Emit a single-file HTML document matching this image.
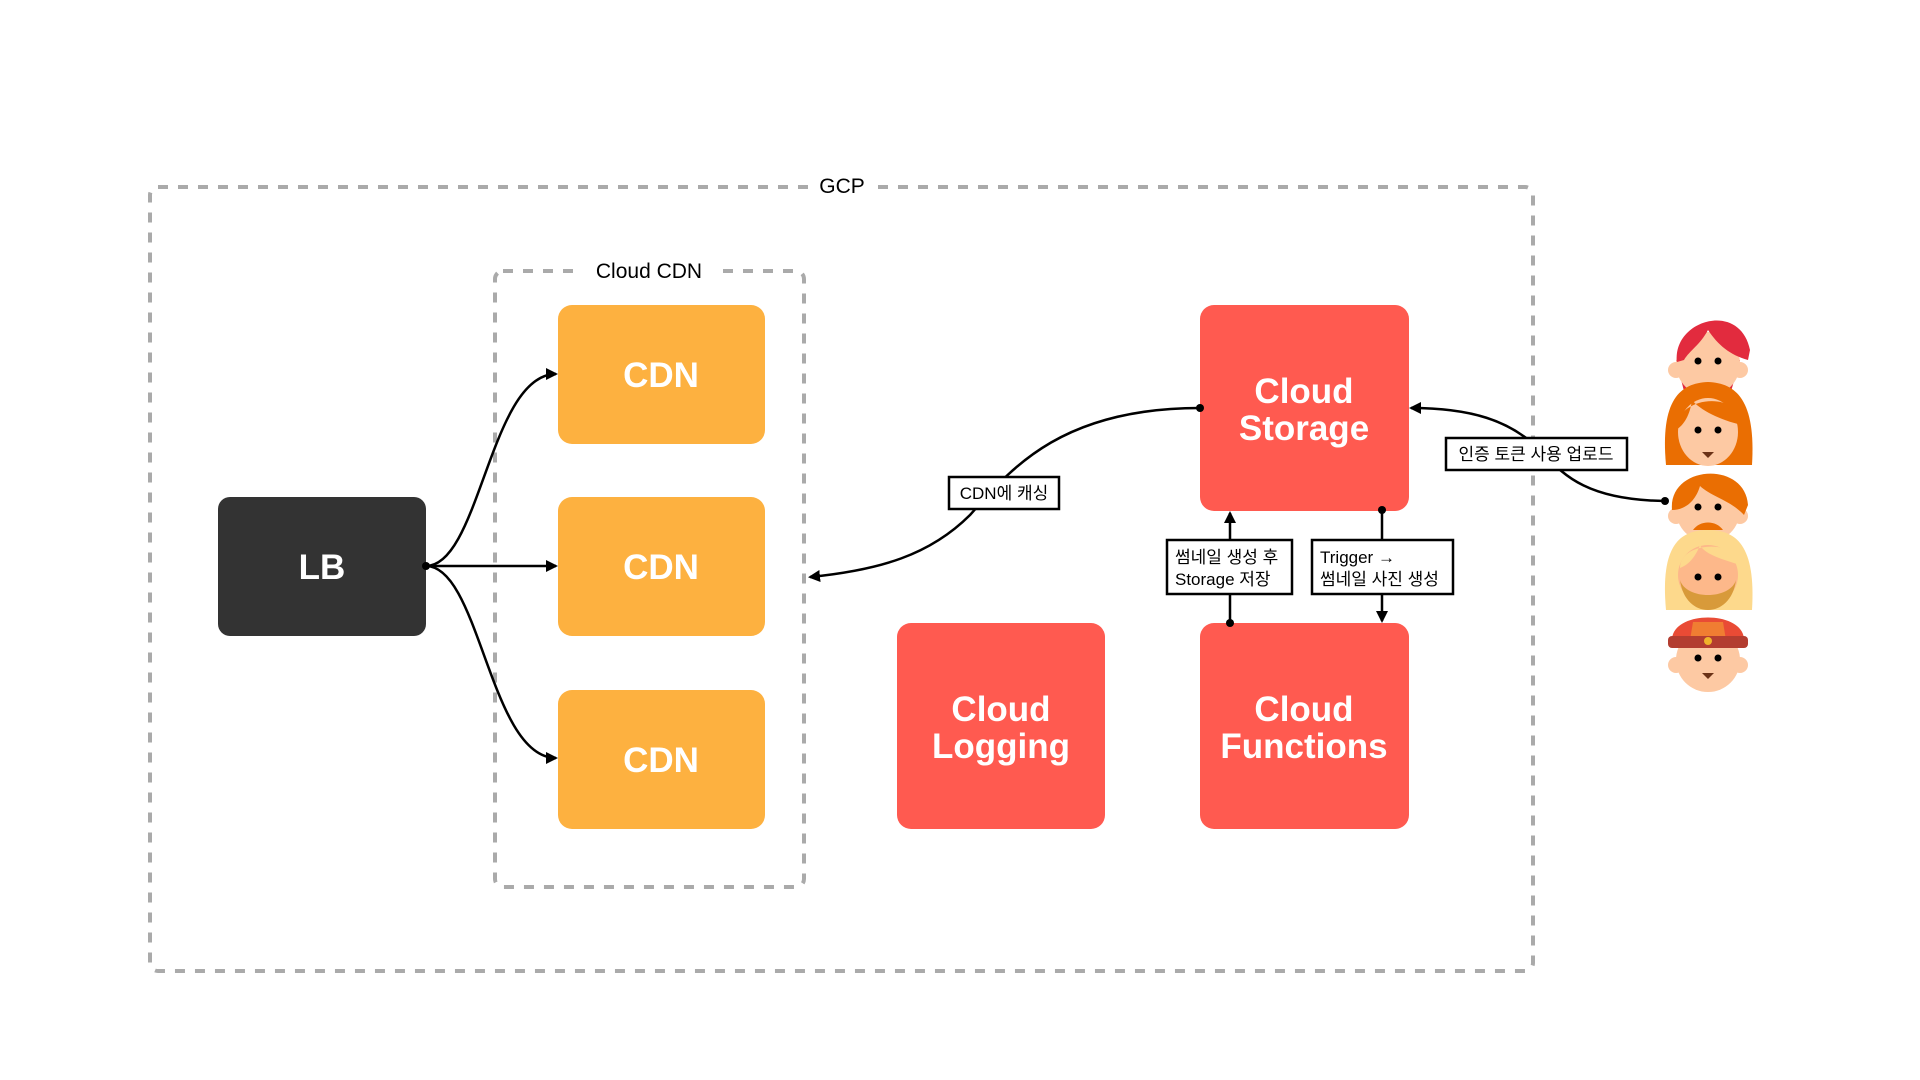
<!DOCTYPE html>
<html><head><meta charset="utf-8"><style>
html,body{margin:0;padding:0;background:#fff;width:1920px;height:1080px;overflow:hidden}
svg{display:block}
.t{font-family:"Liberation Sans","Noto Sans CJK KR",sans-serif}
.w{fill:#fff;font-weight:bold;font-size:35px;text-anchor:middle}
.l{font-size:17px;fill:#000}
</style></head><body>
<svg width="1920" height="1080" viewBox="0 0 1920 1080" xmlns="http://www.w3.org/2000/svg">
<defs>
<marker id="a" markerWidth="12" markerHeight="12" refX="10" refY="6" orient="auto" markerUnits="userSpaceOnUse">
<path d="M0,0 L12,6 L0,12 z" fill="#000"/></marker>
</defs>
<!-- GCP -->
<rect x="150" y="187" width="1383" height="784" rx="8" fill="none" stroke="#aaa" stroke-width="4" stroke-dasharray="10 10"/>
<rect x="815" y="172" width="58" height="30" fill="#fff"/>
<text x="842" y="193" class="t" font-size="21" text-anchor="middle">GCP</text>
<!-- Cloud CDN -->
<rect x="495" y="271" width="309" height="616" rx="8" fill="none" stroke="#aaa" stroke-width="4" stroke-dasharray="10 10"/>
<rect x="580" y="256" width="140" height="30" fill="#fff"/>
<text x="649" y="278" class="t" font-size="21" text-anchor="middle">Cloud CDN</text>
<!-- boxes -->
<rect x="218" y="497" width="208" height="139" rx="12" fill="#333"/>
<text x="322" y="579" class="t w">LB</text>
<rect x="558" y="305" width="207" height="139" rx="14" fill="#FDB140"/>
<text x="661" y="387" class="t w">CDN</text>
<rect x="558" y="497" width="207" height="139" rx="14" fill="#FDB140"/>
<text x="661" y="579" class="t w">CDN</text>
<rect x="558" y="690" width="207" height="139" rx="14" fill="#FDB140"/>
<text x="661" y="772" class="t w">CDN</text>
<rect x="1200" y="305" width="209" height="206" rx="14" fill="#FF5A50"/>
<text x="1304" y="403" class="t w">Cloud</text>
<text x="1304" y="440" class="t w">Storage</text>
<rect x="897" y="623" width="208" height="206" rx="14" fill="#FF5A50"/>
<text x="1001" y="721" class="t w">Cloud</text>
<text x="1001" y="758" class="t w">Logging</text>
<rect x="1200" y="623" width="209" height="206" rx="14" fill="#FF5A50"/>
<text x="1304" y="721" class="t w">Cloud</text>
<text x="1304" y="758" class="t w">Functions</text>
<!-- LB connectors -->
<g fill="none" stroke="#000" stroke-width="2.5">
<path d="M426,566 C480,566 490,374 556,374" marker-end="url(#a)"/>
<path d="M426,566 L556,566" marker-end="url(#a)"/>
<path d="M426,566 C480,566 490,758 556,758" marker-end="url(#a)"/>
<path d="M1200,408 C1060,408 1010,470 970,515 C930,555 880,570 810,577" marker-end="url(#a)"/>
<path d="M1665,501 C1580,500 1560,470 1540,450 C1510,420 1470,408 1411,408" marker-end="url(#a)"/>
<path d="M1230,623 L1230,513" marker-end="url(#a)"/>
<path d="M1382,510 L1382,621" marker-end="url(#a)"/>
</g>
<circle cx="426" cy="566" r="4"/>
<circle cx="1200" cy="408" r="4"/>
<circle cx="1665" cy="501" r="4"/>
<circle cx="1230" cy="623" r="4"/>
<circle cx="1382" cy="510" r="4"/>
<!-- labels -->
<g class="t l">
<rect x="949" y="477" width="110" height="32" fill="#fff" stroke="#000" stroke-width="2.5"/>
<text x="1004" y="499" text-anchor="middle">CDN에 캐싱</text>
<rect x="1446" y="438" width="181" height="32" fill="#fff" stroke="#000" stroke-width="2.5"/>
<text x="1536" y="460" text-anchor="middle">인증 토큰 사용 업로드</text>
<rect x="1167" y="540" width="125" height="54" fill="#fff" stroke="#000" stroke-width="2.5"/>
<text x="1175" y="563">썸네일 생성 후</text>
<text x="1175" y="585">Storage 저장</text>
<rect x="1312" y="540" width="141" height="54" fill="#fff" stroke="#000" stroke-width="2.5"/>
<text x="1320" y="563">Trigger →</text>
<text x="1320" y="585">썸네일 사진 생성</text>
</g>
<!-- faces -->
<g>
<!-- face1 -->
<path d="M1676,360 L1685,395 L1730,395 L1740,360 z" fill="#E22B3E"/>
<circle cx="1708" cy="364" r="32" fill="#FDC9A3"/>
<circle cx="1676" cy="370" r="8" fill="#FDC9A3"/><circle cx="1740" cy="370" r="8" fill="#FDC9A3"/>
<path d="M1677,362 C1672,320 1740,300 1750,350 L1748,360 C1730,355 1718,345 1708,330 C1700,345 1690,350 1684,360 z" fill="#E22B3E"/>
<circle cx="1698" cy="361" r="3.5"/><circle cx="1718" cy="361" r="3.5"/>
<!-- face2 -->
<path d="M1666,465 C1660,400 1680,383 1708,382 C1736,383 1756,400 1752,465 z" fill="#EA6E02"/>
<ellipse cx="1708" cy="432" rx="30" ry="34" fill="#FDC9A3"/>
<path d="M1676,430 C1676,395 1740,390 1742,425 C1720,420 1700,410 1692,400 C1690,415 1684,425 1676,430 z" fill="#EA6E02"/>
<circle cx="1698" cy="430" r="3.5"/><circle cx="1718" cy="430" r="3.5"/>
<path d="M1702,452 L1714,452 L1708,458 z" fill="#6B3216"/>
<!-- face3 -->
<circle cx="1708" cy="510" r="32" fill="#FDC9A3"/>
<circle cx="1676" cy="516" r="8" fill="#FDC9A3"/><circle cx="1740" cy="516" r="8" fill="#FDC9A3"/>
<path d="M1672,510 C1668,465 1745,460 1748,505 L1744,515 C1730,500 1712,497 1700,486 C1696,500 1686,510 1672,510 z" fill="#EA6E02"/>
<circle cx="1698" cy="507" r="3.5"/><circle cx="1718" cy="507" r="3.5"/>
<path d="M1693,530 C1700,520 1716,520 1723,530 z" fill="#EA6E02"/>
<!-- face4 -->
<path d="M1666,610 C1660,545 1680,530 1708,530 C1736,530 1756,545 1752,610 z" fill="#FDD98C"/>
<ellipse cx="1708" cy="575" rx="30" ry="30" fill="#FDB88A"/>
<path d="M1680,580 C1685,620 1731,620 1736,580 C1730,600 1686,600 1680,580 z" fill="#D89A3A"/>
<path d="M1680,568 C1680,540 1740,540 1740,565 C1725,560 1705,555 1700,545 C1695,558 1688,565 1680,568 z" fill="#FDD98C"/>
<circle cx="1698" cy="577" r="3.5"/><circle cx="1718" cy="577" r="3.5"/>
<!-- face5 -->
<circle cx="1708" cy="660" r="32" fill="#FDC9A3"/>
<circle cx="1676" cy="665" r="8" fill="#FDC9A3"/><circle cx="1740" cy="665" r="8" fill="#FDC9A3"/>
<path d="M1672,640 C1672,610 1744,610 1744,640 z" fill="#E94B35"/>
<path d="M1693,622 L1723,622 L1726,640 L1690,640 z" fill="#F07D32"/>
<rect x="1668" y="636" width="80" height="12" rx="4" fill="#B33D30"/>
<circle cx="1708" cy="641" r="4" fill="#F0B32A"/>
<circle cx="1698" cy="658" r="3.5"/><circle cx="1718" cy="658" r="3.5"/>
<path d="M1702,673 L1714,673 L1708,679 z" fill="#6B3216"/>
</g>
</svg>
</body></html>
